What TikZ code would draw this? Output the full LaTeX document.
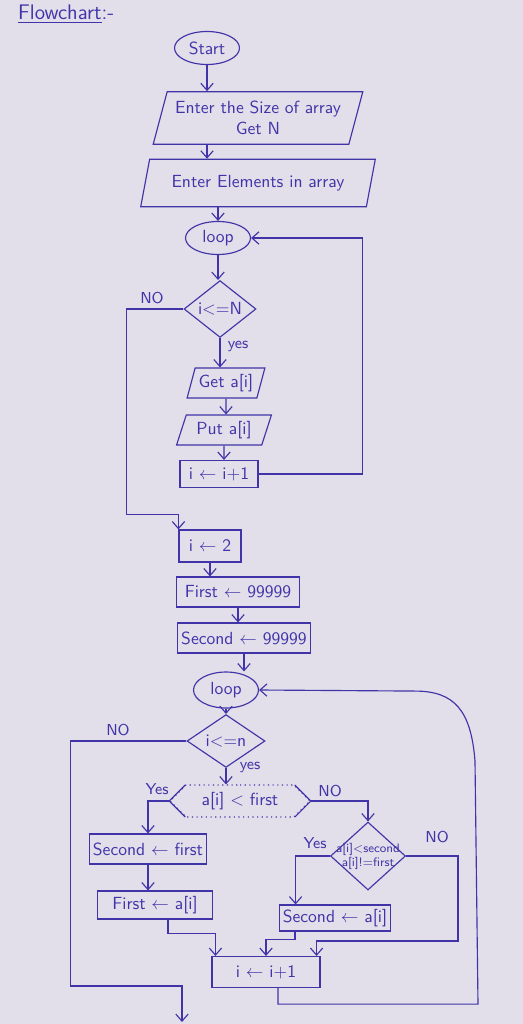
\documentclass[tikz,border=0pt]{standalone}
\usepackage{tikz}
\usetikzlibrary{shapes,shapes.geometric,shapes.symbols,arrows.meta,positioning,calc}
\definecolor{inkblue}{RGB}{64,52,168}
\definecolor{paper}{RGB}{226,222,234}
\tikzset{
  ink/.style={draw=inkblue, line width=0.65pt, text=inkblue, font=\sffamily},
  term/.style={ellipse, ink, minimum width=1.3cm, minimum height=0.66cm, inner sep=1pt},
  io/.style={trapezium, trapezium left angle=72, trapezium right angle=108,
    trapezium stretches=true, ink, inner sep=2pt},
  proc/.style={rectangle, ink, inner sep=2pt},
  dec/.style={diamond, ink, inner sep=0pt},
  flow/.style={draw=inkblue, line width=0.65pt, -{Straight Barb[length=4pt,width=7pt]}},
  wire/.style={draw=inkblue, line width=0.65pt},
  lab/.style={text=inkblue, font=\sffamily\small}
}
\begin{document}
\begin{tikzpicture}[x=0.02cm, y=-0.02cm]
    \fill[paper] (0,0) rectangle (523,1024);
    \useasboundingbox (0,0) rectangle (523,1024);

    \node[lab, anchor=west, font=\sffamily\large] (title) at (12,14) {\underline{Flowchart}:-};

    % Reading the array
    \node[term] (start) at (207,48) {Start};
    \node[io, minimum width=4.2cm, minimum height=1.05cm, align=center] (in1) at (258,118) {Enter the Size of array\\Get N};
    \node[io, minimum width=4.7cm, minimum height=0.95cm] (in2) at (258,183) {Enter Elements in array};
    \node[term] (loop1) at (218,238) {loop};
    \node[dec, minimum width=1.44cm, minimum height=1.0cm] (dec1) at (220,309) {i<=N};
    \node[io, minimum width=1.56cm, minimum height=0.6cm] (get) at (226,383) {Get a[i]};
    \node[io, minimum width=1.9cm, minimum height=0.6cm] (put) at (224,430) {Put a[i]};
    \node[proc, minimum width=1.56cm, minimum height=0.54cm] (inc1) at (219,474) {i $\leftarrow$ i+1};

    \draw[flow] (start) -- (start |- in1.north);
    \draw[flow] (start |- in1.south) -- (start |- in2.north);
    \draw[flow] (loop1 |- in2.south) -- (loop1);
    \draw[flow] (loop1) -- (loop1 |- dec1.north);
    \draw[flow] (dec1.south) -- (dec1.south |- get.north);
    \draw[flow] (get) -- (get |- put.north);
    \draw[flow] (put) -- (put |- inc1.north);
    \draw[flow] (inc1.east) -- ++(104,0) |- (loop1.east);

    % Finding first and second
    \node[proc, minimum width=1.24cm, minimum height=0.64cm] (init2) at (210,546) {i $\leftarrow$ 2};
    \node[proc, minimum width=2.46cm, minimum height=0.6cm] (first) at (238,592) {First $\leftarrow$ 99999};
    \node[proc, minimum width=2.56cm, minimum height=0.6cm] (second) at (244,638) {Second $\leftarrow$ 99999};
    \node[term, minimum height=0.72cm] (loop2) at (226,690) {loop};
    \node[dec, minimum width=1.56cm, minimum height=0.72cm] (dec2) at (226,741) {i<=n};
    \node[signal, signal to=west and east, draw=inkblue, dotted, line width=0.65pt, text=inkblue,
      font=\sffamily, minimum width=2.8cm, minimum height=0.64cm] (dec3) at (240,801) {a[i] < first};
    \draw[wire] ([shift={(16,-16)}]dec3.west) -- (dec3.west) -- ([shift={(16,16)}]dec3.west);
    \draw[wire] ([shift={(-16,-16)}]dec3.east) -- (dec3.east) -- ([shift={(-16,16)}]dec3.east);
    \node[proc, minimum width=2.26cm, minimum height=0.6cm] (sf) at (148,849) {Second $\leftarrow$ first};
    \node[proc, minimum width=2.3cm, minimum height=0.56cm] (fa) at (155,905) {First $\leftarrow$ a[i]};
    \node[dec, minimum width=1.5cm, minimum height=1.36cm, inner sep=-9pt, align=center,
      font=\sffamily\scriptsize] (dec4) at (368,856) {a[i]<second\\a[i]!=first};
    \node[proc, minimum width=2.0cm, minimum height=0.52cm] (sa) at (335,918) {Second $\leftarrow$ a[i]};
    \node[proc, minimum width=2.16cm, minimum height=0.62cm] (inc2) at (266,972) {i $\leftarrow$ i+1};
    \coordinate (exit) at (182,1022);

    \draw[flow] (dec1.west) -- ++(-57,0) |- ([shift={(0,-15)}]init2.north west) -- (init2.north west);
    \draw[flow] (init2) -- (init2 |- first.north);
    \draw[flow] (first) -- (first |- second.north);
    \draw[flow] (second) -- (second |- loop2.north);
    \draw[flow] (loop2) -- (loop2 |- dec2.north);
    \draw[flow] (dec2.south) -- (dec2.south |- dec3.north);
    \draw[flow] (dec2.west) -- ++(-116,0) |- ([shift={(0,-36)}]exit) -- (exit);
    \draw[flow] (dec3.west) -| (sf.north);
    \draw[flow] (dec3.east) -| (dec4.north);
    \draw[flow] (sf.south) -- (sf.south |- fa.north);
    \draw[flow] (dec4.west) -| ($(sa.north west)!0.15!(sa.north east)$);
    \draw[flow] (dec4.east) -- ++(52,0) |- ([shift={(-4,-15)}]inc2.north east) -- ([shift={(-4,0)}]inc2.north east);
    \draw[flow] ([shift={(-40,0)}]sa.south) -- ++(0,8) -| (inc2.north);
    \draw[flow] ([shift={(13,0)}]fa.south) -- ++(0,14) -| ([shift={(4,0)}]inc2.north west);
    \draw[flow] ([shift={(12,0)}]inc2.south) -- ++(0,16) -- ++(200,0) -- ++(-3,-243)
      .. controls +(-4,-50) and +(40,0) .. ++(-60,-70) -- (loop2.east);

    % Branch labels
    \node[lab] (no1) at (152,298) {NO};
    \node[lab] (yes1) at (238,346) {yes};
    \node[lab] (no2) at (118,730) {NO};
    \node[lab] (yes2) at (250,767) {yes};
    \node[lab] (yes3) at (157,789) {Yes};
    \node[lab] (no3) at (330,791) {NO};
    \node[lab] (yes4) at (315,843) {Yes};
    \node[lab] (no4) at (437,837) {NO};
\end{tikzpicture}
\end{document}
